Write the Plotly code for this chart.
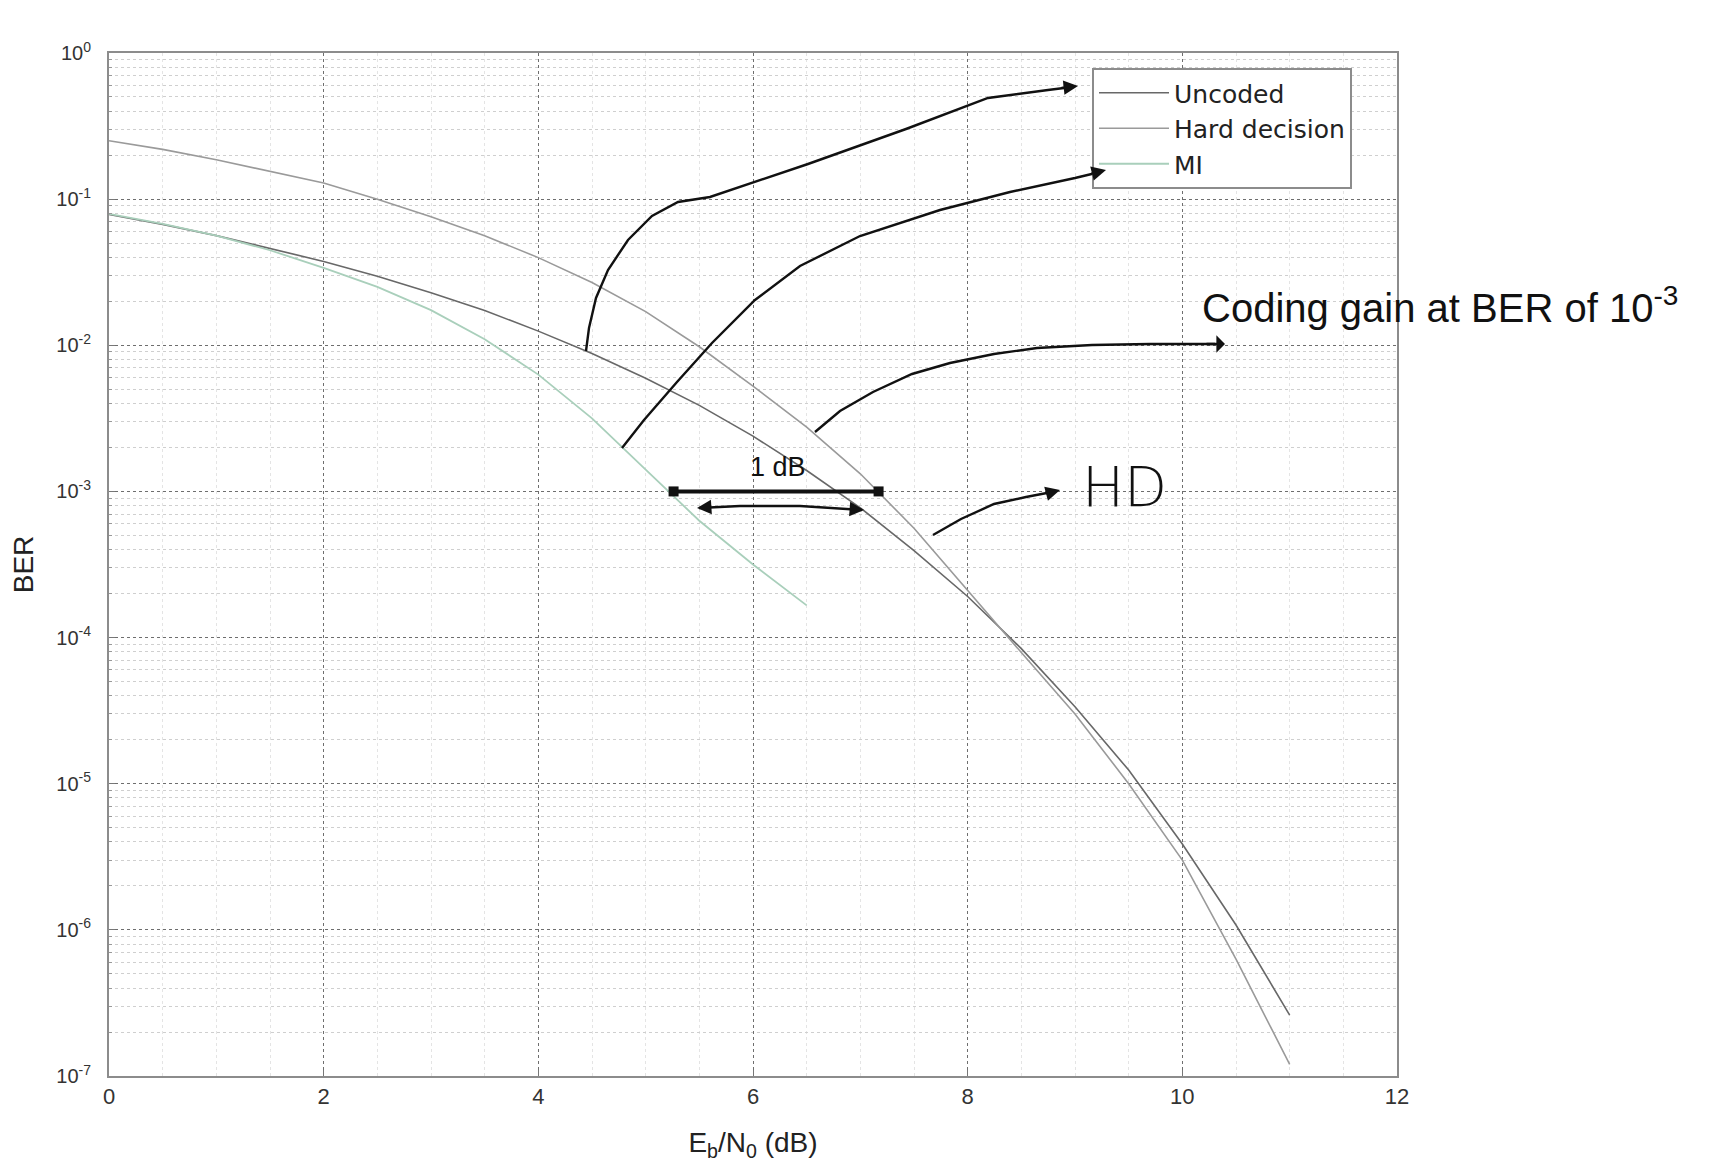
import plotly.graph_objects as go

# ---------------- data ----------------
snr = [0, 0.5, 1, 1.5, 2, 2.5, 3, 3.5, 4, 4.5, 5, 5.5, 6, 6.5, 7, 7.5, 8,
       8.5, 9, 9.5, 10, 10.5, 11]
ber_uncoded = [7.86e-2, 6.72e-2, 5.63e-2, 4.60e-2, 3.75e-2, 2.97e-2, 2.29e-2,
               1.73e-2, 1.25e-2, 8.8e-3, 5.95e-3, 3.88e-3, 2.39e-3, 1.39e-3,
               7.73e-4, 3.94e-4, 1.91e-4, 8.4e-5, 3.36e-5, 1.24e-5, 3.87e-6,
               1.08e-6, 2.61e-7]
ber_hard = [0.251, 0.219, 0.186, 0.155, 0.129, 0.100, 0.0759, 0.0562, 0.0398,
            0.0269, 0.0170, 0.00977, 0.00525, 0.00275, 0.00132, 5.6e-4,
            2.09e-4, 7.9e-5, 3.0e-5, 1.0e-5, 3.0e-6, 6.3e-7, 1.2e-7]
snr_ml = [0, 0.5, 1, 1.5, 2, 2.5, 3, 3.5, 4, 4.5, 5, 5.5, 6, 6.5]
ber_ml = [0.0794, 0.0676, 0.0562, 0.0447, 0.0339, 0.0251, 0.0174, 0.0110,
          0.0063, 0.00316, 0.00141, 6.3e-4, 3.16e-4, 1.66e-4]

gain_x = [5.26, 7.17]          # ends of the "1 dB" bar
gain_y = [1e-3, 1e-3]

x_ticks = [0, 2, 4, 6, 8, 10, 12]
y_tickvals = [1, 1e-1, 1e-2, 1e-3, 1e-4, 1e-5, 1e-6, 1e-7]
y_ticktext = ["10<sup>0</sup>", "10<sup>-1</sup>", "10<sup>-2</sup>", "10<sup>-3</sup>",
              "10<sup>-4</sup>", "10<sup>-5</sup>", "10<sup>-6</sup>", "10<sup>-7</sup>"]

# ---------------- layout geometry ----------------
OFF = 8                      # page body margin
W, H = 1712 - 2 * OFF, 1172 - 2 * OFF
# plot area in screen pixels
SL, SR, ST, SB = 109, 1397, 53, 1076


def P(px, py):
    return ((px - SL) / (SR - SL), 1 - (py - ST) / (SB - ST))


def path(points):
    s = ""
    for i, (px, py) in enumerate(points):
        x, y = P(px, py)
        s += ("M" if i == 0 else " L") + f" {x:.5f},{y:.5f}"
    return s


fig = go.Figure()
fig.add_trace(go.Scatter(x=snr, y=ber_uncoded, mode="lines", name="Uncoded",
                         line=dict(color="#686868", width=1.6)))
fig.add_trace(go.Scatter(x=snr, y=ber_hard, mode="lines", name="Hard decision",
                         line=dict(color="#9a9a9a", width=1.6)))
fig.add_trace(go.Scatter(x=snr_ml, y=ber_ml, mode="lines", name="MI",
                         line=dict(color="#a9cfbb", width=1.8)))
fig.add_trace(go.Scatter(x=gain_x, y=gain_y, mode="lines+markers", showlegend=False,
                         line=dict(color="#111", width=4),
                         marker=dict(color="#111", size=10, symbol="square")))

black = dict(color="#111", width=2.4)
shapes = []
arrow1 = [(586, 351), (589, 328), (596, 298), (608, 270), (628, 240), (652, 216),
          (678, 202), (710, 197), (808, 164), (906, 129), (988, 98), (1048, 90), (1072, 87)]
arrow2 = [(622, 448), (644, 420), (677, 382), (712, 343), (755, 300), (800, 266),
          (860, 236), (940, 210), (1010, 192), (1075, 178), (1100, 172)]
arrow3 = [(815, 432), (840, 411), (873, 392), (912, 374), (950, 363), (994, 354),
          (1037, 348), (1092, 345), (1150, 344), (1215, 344)]
arrow4 = [(933, 535), (961, 519), (994, 504), (1026, 497), (1052, 492)]
arrow5 = [(699, 508), (740, 506), (800, 506), (862, 510)]
for pts in (arrow1, arrow2, arrow3, arrow4, arrow5):
    shapes.append(dict(type="path", xref="paper", yref="paper", path=path(pts),
                       line=black))

annotations = []


def head(p_tip, p_from, style=2, size=1.2):
    x, y = P(*p_tip)
    annotations.append(dict(xref="paper", yref="paper", x=x, y=y, text="",
                            showarrow=True, arrowhead=style, arrowsize=size,
                            arrowwidth=2.4, arrowcolor="#111",
                            ax=p_from[0] - p_tip[0], ay=p_from[1] - p_tip[1]))


head((1078, 86), (1060, 88), 2)
head((1106, 170), (1090, 174), 2)
head((1225, 344), (1205, 344), 1)
head((1060, 490), (1045, 494), 2)
head((864, 510), (850, 509), 2)
head((697, 508), (712, 507), 2)


def text(px, py, s, size, anchor="center", family="Liberation Sans", weight=None):
    x, y = P(px, py)
    f = dict(family=family, size=size, color="#111")
    if weight:
        f["weight"] = weight
    annotations.append(dict(xref="paper", yref="paper", x=x, y=y, xanchor=anchor,
                            yanchor="middle", text=s, showarrow=False, font=f))


text(778, 467, "1 dB", 27)
text(1200, 305, "Coding gain at BER of 10<sup>-3</sup>", 40, anchor="left")
text(1124, 486, "HD", 56, family="DejaVu Sans", weight=200)

axis_common = dict(showline=True, linecolor="#8c8c8c", linewidth=2, mirror=True,
                   ticks="inside", tickcolor="#777", ticklen=6, automargin=False,
                   showgrid=True, gridcolor="#6e6e6e", griddash="dot", gridwidth=1,
                   zeroline=False)

fig.update_layout(
    width=W, height=H,
    margin=dict(l=SL - OFF, r=(W + OFF) - SR, t=ST - OFF, b=(H + OFF) - SB,
                autoexpand=False),
    paper_bgcolor="white", plot_bgcolor="white",
    font=dict(family="Liberation Sans", color="#222"),
    xaxis=dict(range=[0, 12], tickvals=x_ticks,
               tickfont=dict(family="Liberation Sans", size=22, color="#333"),
               minor=dict(dtick=0.5, showgrid=True, gridcolor="#e4e4e4", griddash="dot",
                          ticks=""),
               title=dict(text="E<sub>b</sub>/N<sub>0</sub> (dB)", standoff=24,
                          font=dict(size=28, color="#222")),
               **axis_common),
    yaxis=dict(type="log", range=[-7, 0], tickvals=y_tickvals, ticktext=y_ticktext,
               ticklabelstandoff=12,
               tickfont=dict(family="Liberation Sans", size=20, color="#333"),
               minor=dict(dtick="D1", showgrid=True, gridcolor="#cfcfcf", griddash="dot",
                          ticks="inside", ticklen=3, tickcolor="#999"),
               title=dict(text="BER", standoff=22, font=dict(size=28, color="#222")),
               **axis_common),
    legend=dict(x=P(1092, 68)[0], y=P(1092, 68)[1], xanchor="left", yanchor="top",
                bgcolor="white", bordercolor="#8c8c8c", borderwidth=2,
                font=dict(family="DejaVu Sans", size=25, color="#222"),
                tracegroupgap=2, itemwidth=70),
    shapes=shapes,
    annotations=annotations,
    showlegend=True,
)

fig.write_html("out.html")
